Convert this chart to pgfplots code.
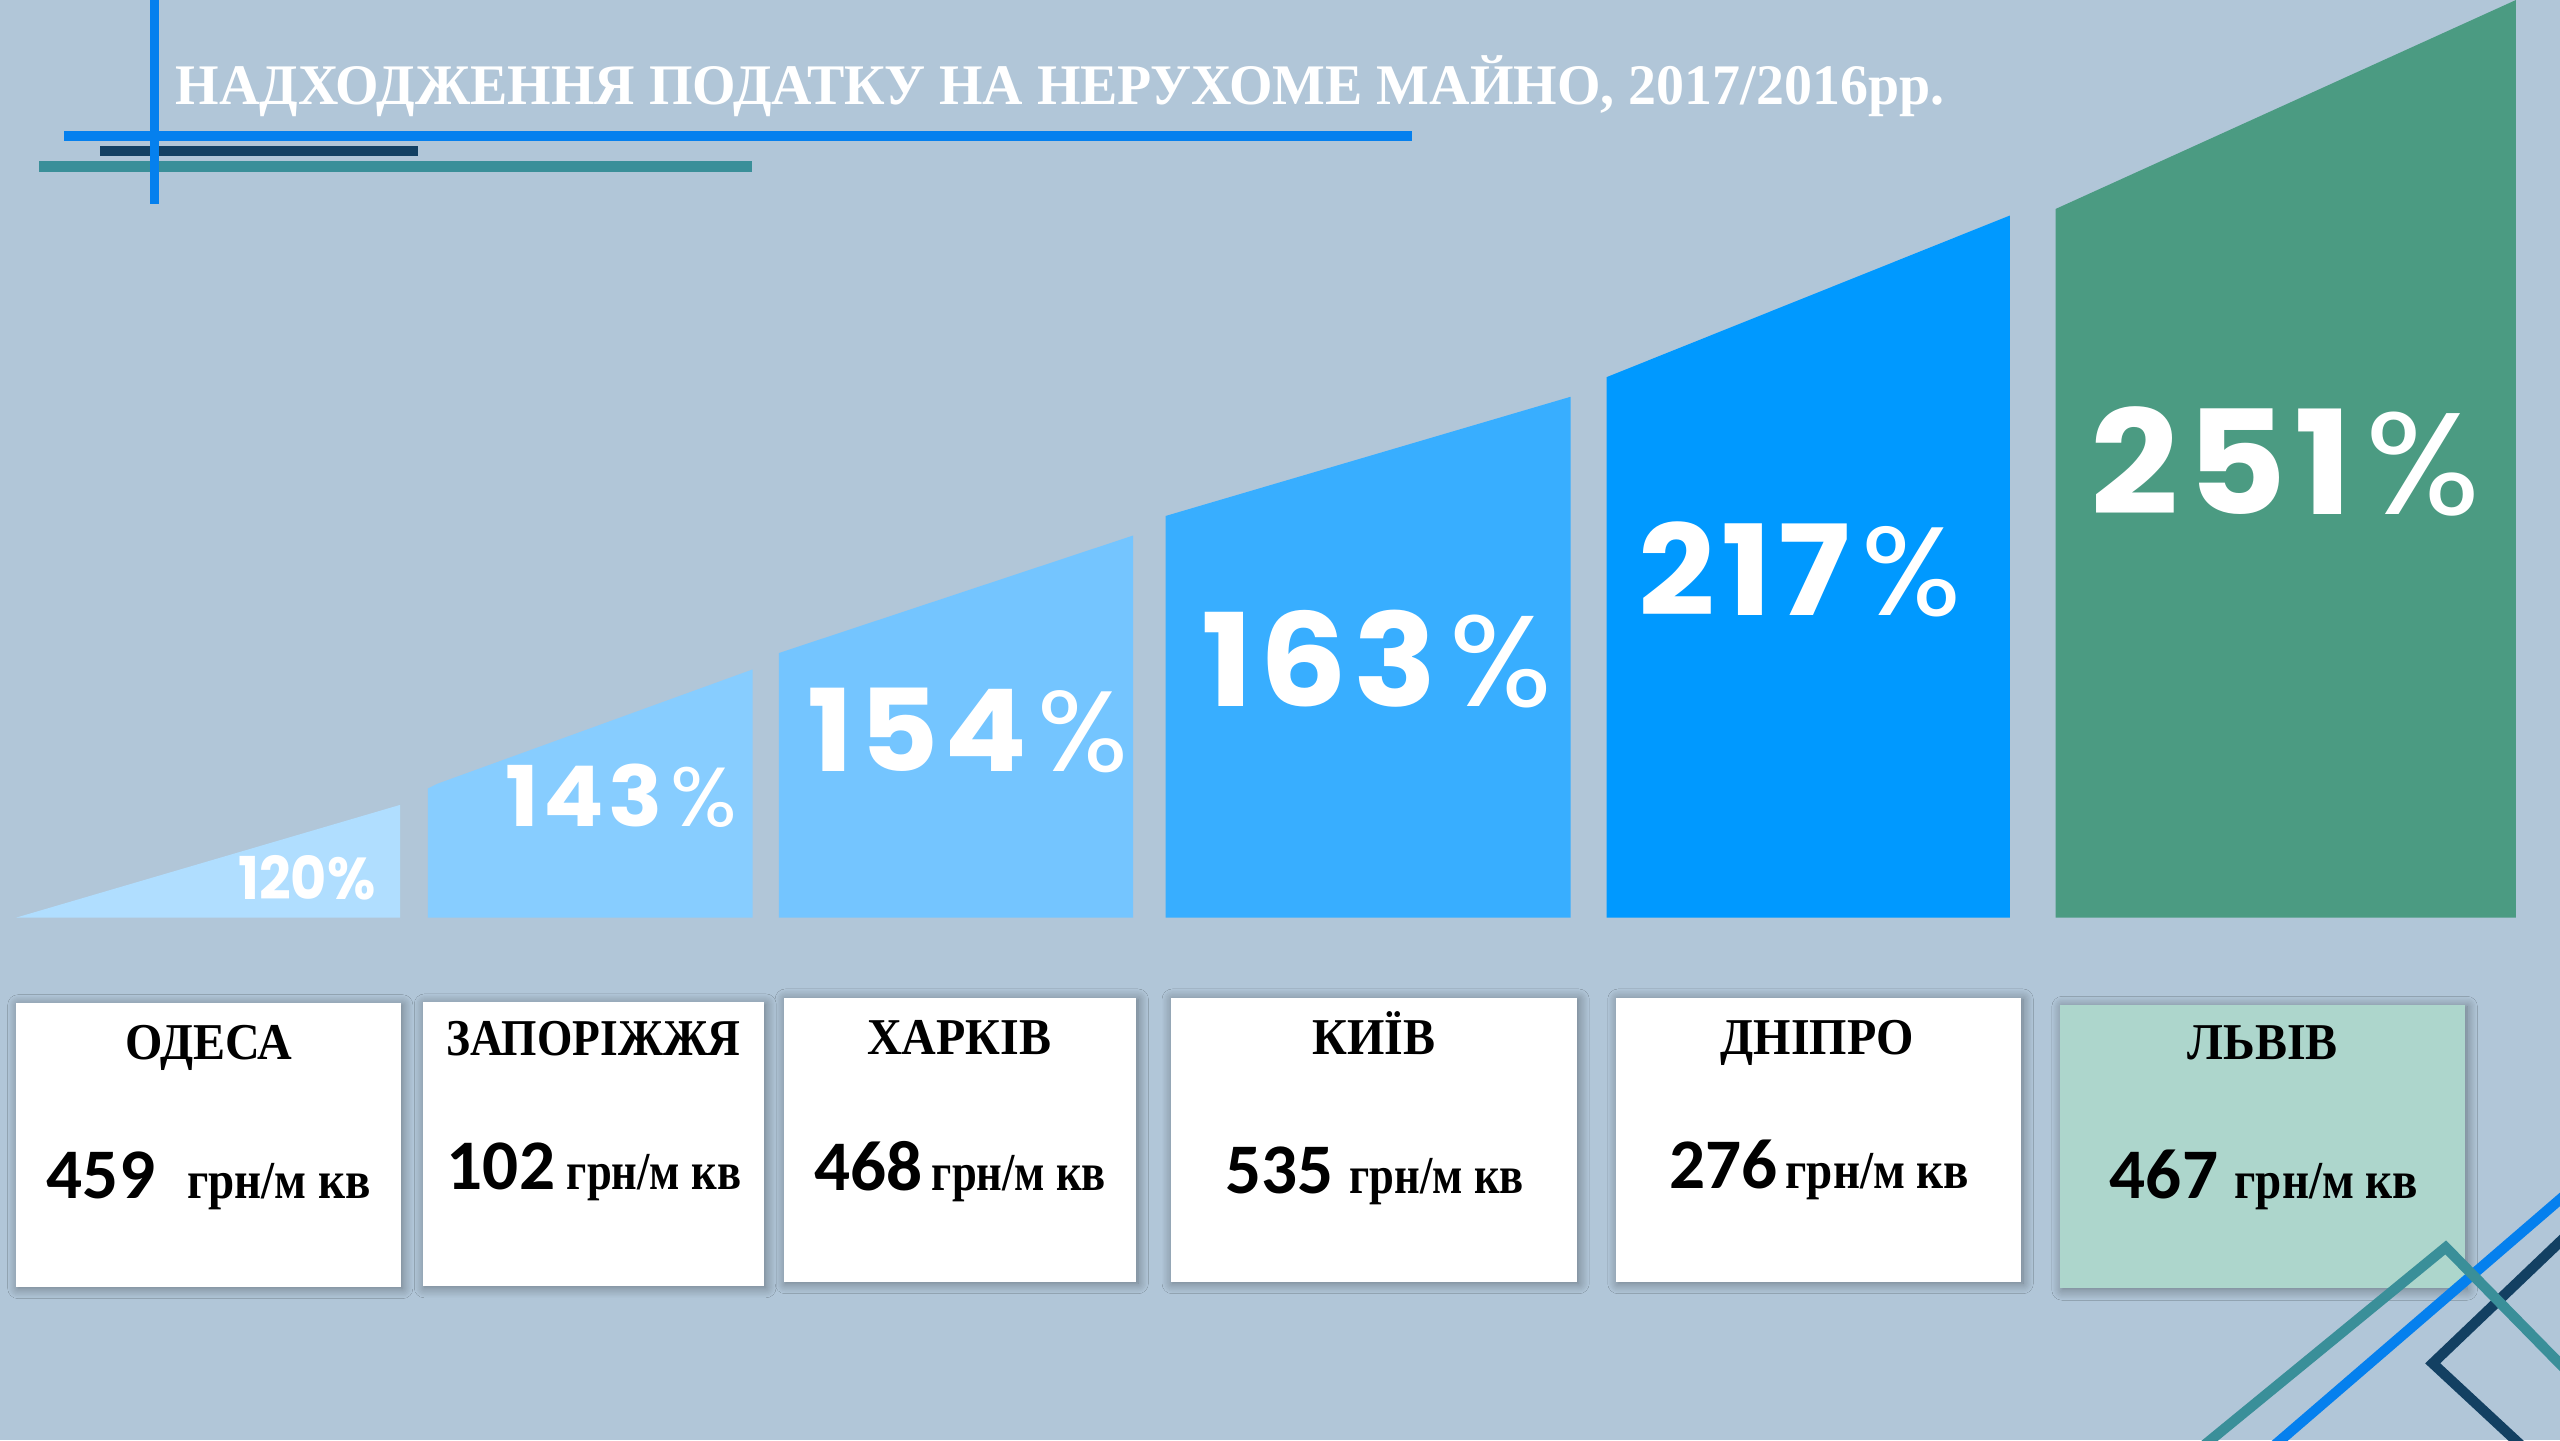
\documentclass[border=0pt]{standalone}
\usepackage{pgfplots}
\pgfplotsset{compat=1.18}
\usepackage{fontspec}
\usetikzlibrary{shadows.blur}
\setmainfont{Liberation Serif}
\newfontfamily\titlefont[FakeStretch=0.975]{Liberation Serif}
\newfontfamily\cityfont[FakeStretch=0.93]{Liberation Serif}
\newfontfamily\cityfontn[FakeStretch=0.88]{Liberation Serif}
\newfontfamily\unitfont[FakeStretch=0.88]{Liberation Serif}
\newfontfamily\unitfontn[FakeStretch=0.835]{Liberation Serif}
\newfontfamily\pctfont[LetterSpace=5,FakeStretch=1.07]{Poppins}
\newfontfamily\pctpct[FakeStretch=1.05]{Poppins}
\newfontfamily\pctcond[FakeStretch=0.94]{Poppins}
\newfontfamily\numfont{Carlito}
\newcommand\pct[2]{{\pctfont\bfseries\fontsize{#1}{#1}\selectfont #2\hspace{0.09em}{\pctpct\mdseries\%}}}
\definecolor{bg}{HTML}{B1C6D8}
\definecolor{b1}{HTML}{B0DEFF}
\definecolor{b2}{HTML}{87CDFF}
\definecolor{b3}{HTML}{74C5FF}
\definecolor{b4}{HTML}{38AEFF}
\definecolor{b5}{HTML}{0099FF}
\definecolor{b6}{HTML}{4B9B82}
\definecolor{lviv}{HTML}{ADD6CC}
\definecolor{dblue}{HTML}{0580EE}
\definecolor{navy}{HTML}{134062}
\definecolor{decoteal}{HTML}{3A8F99}
\begin{document}
\begin{tikzpicture}
\begin{axis}[at={(0,0)}, anchor=south west, scale only axis,
  width=15.68cm, height=8.82cm,
  xmin=0, xmax=1568, ymin=0, ymax=882, y dir=reverse,
  hide axis, clip=false]
% background
\fill[bg] (axis cs:0,0) rectangle (axis cs:1568,882);
% top-left decoration
\fill[dblue] (axis cs:39,80.5) rectangle (axis cs:865,86.5);
\fill[navy] (axis cs:61,89.5) rectangle (axis cs:256,95.6);
\fill[decoteal] (axis cs:24,98.8) rectangle (axis cs:460.6,105.3);
\fill[dblue] (axis cs:92,0) rectangle (axis cs:97.5,125);
% title
\node[anchor=base west, text=white, font=\titlefont\bfseries\fontsize{10}{12}\selectfont, inner sep=0pt]
  at (axis cs:107,64) {НАДХОДЖЕННЯ ПОДАТКУ НА НЕРУХОМЕ МАЙНО, 2017/2016рр.};
% bars (wedge segments)
\addplot[draw=none, fill=b1] coordinates {(10,562) (245,493) (245,562)} -- cycle;
\addplot[draw=none, fill=b2] coordinates {(262,562) (262,483) (268,480) (461,410) (461,562)} -- cycle;
\addplot[draw=none, fill=b3] coordinates {(477,562) (477,400) (694,328) (694,562)} -- cycle;
\addplot[draw=none, fill=b4] coordinates {(714,562) (714,316) (962,243) (962,562)} -- cycle;
\addplot[draw=none, fill=b5] coordinates {(984,562) (984,231) (1231,132) (1231,562)} -- cycle;
\addplot[draw=none, fill=b6] coordinates {(1259,562) (1259,128) (1541,0) (1541,562)} -- cycle;
% percentage labels
\node[anchor=base, text=white, font=\pctcond\bfseries\fontsize{10.3}{12}\selectfont, inner sep=0pt] at (axis cs:188,551) {120\%};
\node[anchor=base west, text=white, inner sep=0pt] at (axis cs:309,506) {\pct{14.6}{143}};
\node[anchor=base west, text=white, inner sep=0pt] at (axis cs:494,472.6) {\pct{19.9}{154}};
\node[anchor=base west, text=white, inner sep=0pt] at (axis cs:735,433) {\pct{22.5}{163}};
\node[anchor=base west, text=white, inner sep=0pt] at (axis cs:1003,376.7) {\pct{21.9}{217}};
\node[anchor=base west, text=white, inner sep=0pt] at (axis cs:1280,315) {\pct{25.2}{251}};
% boxes
\tikzset{boxsh/.style={blur shadow={shadow xshift=0.3pt, shadow yshift=-0.3pt, shadow blur radius=1.8pt, shadow opacity=40, shadow blur steps=10}}}
\fill[white, boxsh] (axis cs:10,614.5) rectangle (axis cs:245.5,788);
\fill[white, boxsh] (axis cs:259,614) rectangle (axis cs:468,787.5);
\fill[white, boxsh] (axis cs:480,611) rectangle (axis cs:696,785);
\fill[white, boxsh] (axis cs:717,611) rectangle (axis cs:966,785);
\fill[white, boxsh] (axis cs:990,611) rectangle (axis cs:1238,785);
\fill[lviv, boxsh] (axis cs:1262,615.5) rectangle (axis cs:1510,789);
% city names
\tikzset{city/.style={anchor=base, inner sep=0pt, font=\cityfont\bfseries\fontsize{9}{10}\selectfont},
  num/.style={anchor=base west, inner sep=0pt, font=\numfont\bfseries\fontsize{12.4}{14}\selectfont},
  unit/.style={anchor=base west, inner sep=0pt, font=\unitfont\bfseries\fontsize{9.3}{11}\selectfont},
  unitn/.style={anchor=base west, inner sep=0pt, font=\unitfontn\bfseries\fontsize{9.3}{11}\selectfont}}
\node[city] at (axis cs:127.8,649) {ОДЕСА};
\node[city, font=\cityfontn\bfseries\fontsize{9}{10}\selectfont] at (axis cs:363.5,646.6) {ЗАПОРІЖЖЯ};
\node[city] at (axis cs:587.5,646) {ХАРКІВ};
\node[city] at (axis cs:841.6,645.6) {КИЇВ};
\node[city] at (axis cs:1113,646) {ДНІПРО};
\node[city] at (axis cs:1386,649) {ЛЬВІВ};
% values
\node[num] at (axis cs:28,734) {459};   \node[unit] at (axis cs:114,734) {грн/м кв};
\node[num] at (axis cs:273,728.6) {102}; \node[unitn] at (axis cs:346.5,728.6) {грн/м кв};
\node[num] at (axis cs:498,729) {468};  \node[unitn] at (axis cs:570,729) {грн/м кв};
\node[num] at (axis cs:750,731) {535};  \node[unitn] at (axis cs:826,731) {грн/м кв};
\node[num] at (axis cs:1022,727.7) {276}; \node[unit] at (axis cs:1093,727.7) {грн/м кв};
\node[num] at (axis cs:1291.6,734) {467}; \node[unit] at (axis cs:1368,734) {грн/м кв};
% bottom-right decoration
\begin{scope}
\clip (axis cs:0,0) rectangle (axis cs:1568,882);
\draw[overlay, navy, line width=1.8pt] (axis cs:1600,730) -- (axis cs:1490,835) -- (axis cs:1560,900);
\draw[overlay, dblue, line width=1.8pt] (axis cs:1376,900) -- (axis cs:1600,707);
\draw[overlay, decoteal, line width=1.8pt] (axis cs:1332,900) -- (axis cs:1498,764) -- (axis cs:1600,868);
\end{scope}
\end{axis}
\pgfresetboundingbox
\path[use as bounding box] (0,0) rectangle (15.68cm,8.82cm);
\end{tikzpicture}
\end{document}
